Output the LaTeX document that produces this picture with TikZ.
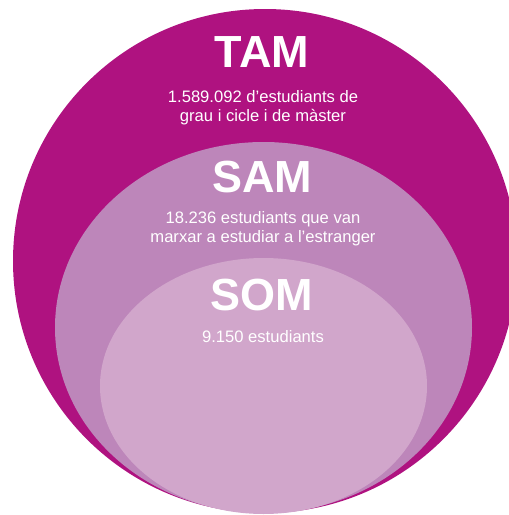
\documentclass[tikz,border=0pt]{standalone}
\usepackage{fontspec}
\setmainfont{Liberation Sans}
\usepackage{tikz}
\usetikzlibrary{shapes.geometric, positioning}
\definecolor{tamcol}{HTML}{AF1280}
\definecolor{samcol}{HTML}{BD86BA}
\definecolor{somcol}{HTML}{D1A6CB}
\tikzset{
  segment/.style={ellipse, inner sep=0pt, outer sep=0pt},
  headline/.style={font=\fontsize{45}{45}\selectfont\bfseries, text=white, inner sep=0pt, anchor=base},
  detail/.style={font=\fontsize{16.6}{19}\selectfont, text=white, align=center, inner sep=0pt, anchor=base},
}

\begin{document}
\begin{tikzpicture}[x=1pt, y=-1pt]
\useasboundingbox (0,0) rectangle (509,515);
% nested markets, all touching at the bottom
\node[segment, fill=tamcol, minimum width=504pt, minimum height=504pt] (tam) at (265,261) {};
\node[segment, fill=samcol, minimum width=417pt, minimum height=371pt] (sam) at (263.5,327.5) {};
\node[segment, fill=somcol, minimum width=327pt, minimum height=256pt] (som) at (263.5,386) {};
% labels (base of a two-line node is its last line)
\node[headline] (tamT) at (262,67) {TAM};
\node[detail] (tamD) at (263,121) {1.589.092 d’estudiants de\\grau i cicle i de màster};
\node[headline] (samT) at (262,192) {SAM};
\node[detail] (samD) at (263,242) {18.236 estudiants que van\\marxar a estudiar a l’estranger};
\node[headline] (somT) at (262,310) {SOM};
\node[detail] (somD) at (263,342) {9.150 estudiants};
\end{tikzpicture}
\end{document}
